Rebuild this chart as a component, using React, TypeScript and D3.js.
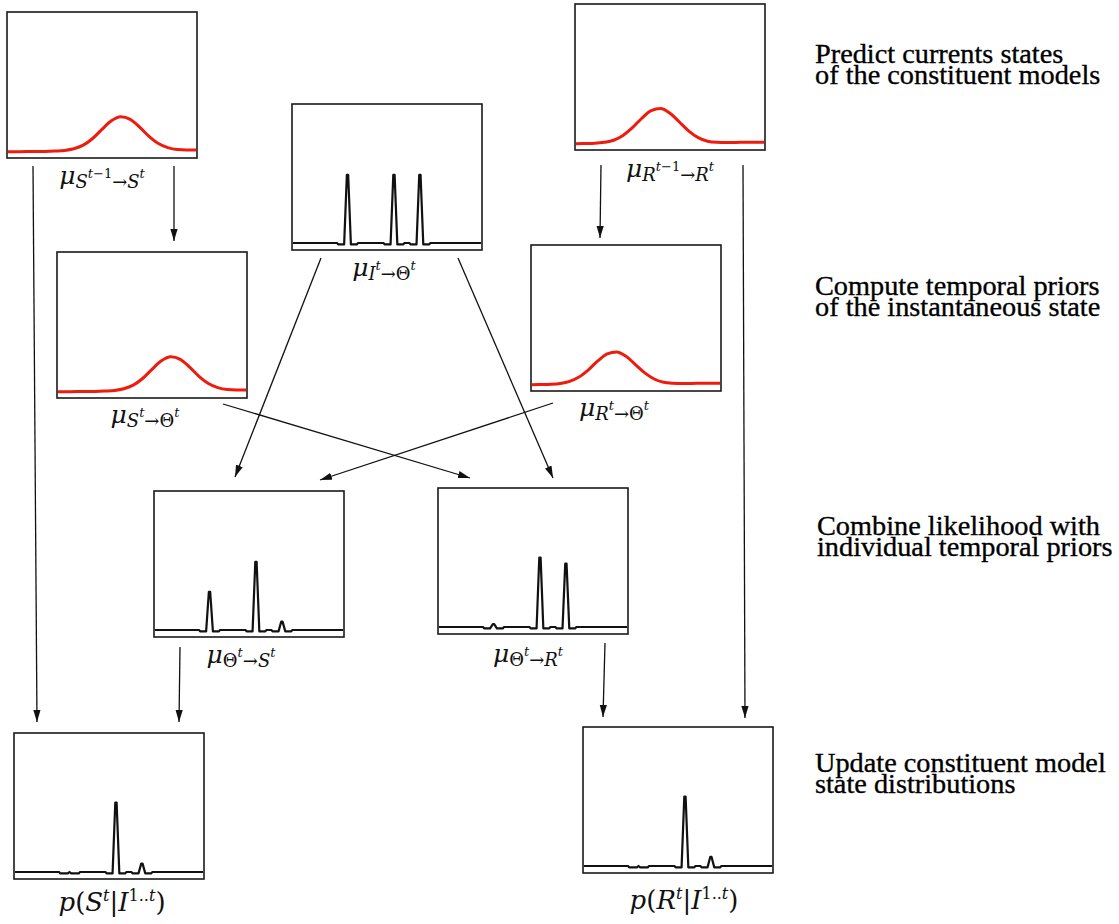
import React from 'react';
import * as d3 from 'd3';

// ---------- data ----------
// sample positions (percent of panel width)
const GX = [0, 5, 10, 15, 20, 25, 30, 35, 40, 45, 50, 55, 60, 65, 70, 75, 80, 85, 90, 95, 100];
// predicted / prior densities (percent of panel height above baseline)
const S_PRED = [-0.6, -0.5, -0.4, -0.4, -0.3, 0, 0.4, 1.6, 4.2, 9, 15.6, 21.7, 24.6, 22.8, 17.2, 10.6, 5.4, 2.4, 1.0, 0.7, 0.7];
const S_TO_THETA = [-0.6, -0.5, -0.4, -0.4, -0.3, 0, 0.4, 1.6, 4.2, 9, 15.6, 21.7, 24.6, 22.8, 17.2, 10.6, 5.4, 2.4, 1.0, 0.7, 0.7];
const R_PRED = [-0.5, -0.4, -0.2, 0.5, 2.0, 5.4, 11, 17.8, 23.3, 24.8, 21.4, 15.1, 8.6, 3.9, 1.3, 0.5, 0.3, 0.4, 0.5, 0.6, 0.6];
const R_TO_THETA = [-0.5, -0.4, -0.2, 0.4, 1.9, 5.0, 10.2, 16.6, 21.7, 23.1, 19.9, 14.0, 8.0, 3.6, 1.2, 0.5, 0.3, 0.4, 0.5, 0.6, 0.6];

// peak locations of the instantaneous state (percent of panel width)
const PEAK_POS = [29, 53.7, 67.5];
// peak heights (percent of panel height)
const I_LIKELIHOOD = [49, 49, 49];
const THETA_TO_S = [27.5, 49, 6];
const THETA_TO_R = [2, 50, 45.6];
const POST_S = [0, 50, 6];
const POST_R = [0, 50, 6.5];

const STEP_TEXT = [
  ['Predict currents states', 'of the constituent models'],
  ['Compute temporal priors', 'of the instantaneous state'],
  ['Combine likelihood with', 'individual temporal priors'],
  ['Update constituent model', 'state distributions'],
];

const LBL_S_PRED = [['μ', 'mu'], ['S', 'sub'], ['t', 'sup'], ['−1', 'supR'], ['→', 'arr'], ['S', 'sub'], ['t', 'sup']];
const LBL_R_PRED = [['μ', 'mu'], ['R', 'sub'], ['t', 'sup'], ['−1', 'supR'], ['→', 'arr'], ['R', 'sub'], ['t', 'sup']];
const LBL_I = [['μ', 'mu'], ['I', 'sub'], ['t', 'sup'], ['→', 'arr'], ['Θ', 'subR'], ['t', 'sup']];
const LBL_S_TH = [['μ', 'mu'], ['S', 'sub'], ['t', 'sup'], ['→', 'arr'], ['Θ', 'subR'], ['t', 'sup']];
const LBL_R_TH = [['μ', 'mu'], ['R', 'sub'], ['t', 'sup'], ['→', 'arr'], ['Θ', 'subR'], ['t', 'sup']];
const LBL_TH_S = [['μ', 'mu'], ['Θ', 'subR'], ['t', 'sup'], ['→', 'arr'], ['S', 'sub'], ['t', 'sup']];
const LBL_TH_R = [['μ', 'mu'], ['Θ', 'subR'], ['t', 'sup'], ['→', 'arr'], ['R', 'sub'], ['t', 'sup']];
const LBL_P_S = [['p', 'it'], ['(', 'rm'], ['S', 'it'], ['t', 'sup2'], ['|', 'rm'], ['I', 'it'], ['1..', 'sup2R'], ['t', 'sup2'], [')', 'rm']];
const LBL_P_R = [['p', 'it'], ['(', 'rm'], ['R', 'it'], ['t', 'sup2'], ['|', 'rm'], ['I', 'it'], ['1..', 'sup2R'], ['t', 'sup2'], [')', 'rm']];

// ---------- layout ----------
const PW = 190;
const PH = 146;
const BASE_OFF = 7;
const MATH_FONT = "'DejaVu Serif', 'Liberation Serif', serif";
const TEXT_FONT = "'Liberation Serif', 'Times New Roman', serif";

const ROLES: Record<string, { size: number; it: boolean; lvl: number }> = {
  mu: { size: 25, it: true, lvl: 0 },
  sub: { size: 18, it: true, lvl: 4 },
  subR: { size: 18, it: false, lvl: 4 },
  arr: { size: 18, it: false, lvl: 4 },
  sup: { size: 13, it: true, lvl: -6 },
  supR: { size: 13, it: false, lvl: -6 },
  it: { size: 26, it: true, lvl: 0 },
  rm: { size: 26, it: false, lvl: 0 },
  sup2: { size: 16, it: true, lvl: -10 },
  sup2R: { size: 16, it: false, lvl: -10 },
};

type Panel = {
  x: number; y: number; kind: 'gauss' | 'spike'; values: number[];
  label: string[][]; lx: number; ly: number;
};

const PANELS: Panel[] = [
  { x: 7, y: 12, kind: 'gauss', values: S_PRED, label: LBL_S_PRED, lx: 102, ly: 184 },
  { x: 575, y: 4, kind: 'gauss', values: R_PRED, label: LBL_R_PRED, lx: 670, ly: 177 },
  { x: 292, y: 104, kind: 'spike', values: I_LIKELIHOOD, label: LBL_I, lx: 384, ly: 276 },
  { x: 57, y: 252, kind: 'gauss', values: S_TO_THETA, label: LBL_S_TH, lx: 145, ly: 423 },
  { x: 531, y: 245, kind: 'gauss', values: R_TO_THETA, label: LBL_R_TH, lx: 614, ly: 416 },
  { x: 154, y: 491, kind: 'spike', values: THETA_TO_S, label: LBL_TH_S, lx: 241, ly: 663 },
  { x: 438, y: 488, kind: 'spike', values: THETA_TO_R, label: LBL_TH_R, lx: 528, ly: 662 },
  { x: 14, y: 733, kind: 'spike', values: POST_S, label: LBL_P_S, lx: 112, ly: 911 },
  { x: 583, y: 727, kind: 'spike', values: POST_R, label: LBL_P_R, lx: 684, ly: 909 },
];

const ARROWS = [
  [33, 166, 37, 722],
  [174, 166, 174, 241],
  [601, 165, 600, 238],
  [743, 165, 745, 718],
  [321, 258, 235, 477],
  [458, 258, 553, 478],
  [223, 404, 470, 478],
  [553, 403, 320, 480],
  [180, 647, 179, 722],
  [605, 643, 603, 717],
];

const TEXT_POS = [
  { x: 815, y: 63 },
  { x: 815, y: 295 },
  { x: 817, y: 535 },
  { x: 815, y: 772 },
];

function spikePoints(heights: number[]): [number, number][] {
  const pts: [number, number][] = [[0, 0]];
  PEAK_POS.forEach((p, i) => {
    const h = heights[i];
    pts.push([p - 5.5, 0], [p - 5, -1.0]);
    if (h > 0) {
      pts.push([p - 1.8, -1.0], [p - 0.35, h], [p + 0.35, h], [p + 1.8, -1.0]);
    } else {
      pts.push([p - 0.9, -1.0], [p, 0], [p + 0.9, -1.0]);
    }
    pts.push([p + 5, -1.0], [p + 5.5, 0]);
  });
  pts.push([100, 0]);
  return pts;
}

function PanelView({ p }: { p: Panel }) {
  const bottom = p.y + PH;
  const base = bottom - BASE_OFF;
  const xs = d3.scaleLinear().domain([0, 100]).range([p.x + 1, p.x + PW - 1]);
  const ys = d3.scaleLinear().domain([0, 100]).range([base, base - 139]);
  let path = '';
  if (p.kind === 'gauss') {
    const line = d3.line<number>().x((_, i) => xs(GX[i])).y((v) => ys(v)).curve(d3.curveMonotoneX);
    path = line(p.values) || '';
  } else {
    const line = d3.line<[number, number]>().x((d) => xs(d[0])).y((d) => ys(d[1]));
    path = line(spikePoints(p.values)) || '';
  }
  let prev = 0;
  return (
    <g>
      <rect x={p.x} y={p.y} width={PW} height={PH} fill="#fff" stroke="#1a1a1a" strokeWidth={1.6} />
      <path d={path} fill="none" stroke={p.kind === 'gauss' ? '#ec1c0e' : '#111'}
        strokeWidth={p.kind === 'gauss' ? 3 : 2.2} strokeLinejoin="round" />
      <text x={p.lx} y={p.ly} textAnchor="middle" fontFamily={MATH_FONT} fill="#111">
        {p.label.map(([t, role], i) => {
          const r = ROLES[role];
          const dy = r.lvl - prev;
          prev = r.lvl;
          return (
            <tspan key={i} dy={dy} fontSize={r.size} fontStyle={r.it ? 'italic' : 'normal'}>{t}</tspan>
          );
        })}
      </text>
    </g>
  );
}

export default function App() {
  return (
    <svg width={1119} height={924} style={{ position: 'absolute', left: 0, top: 0, background: '#fff' }}>
      <defs>
        <marker id="ah" viewBox="0 -4 12 8" refX={12} refY={0} markerWidth={12} markerHeight={8}
          markerUnits="userSpaceOnUse" orient="auto">
          <path d="M0,-3.6L12,0L0,3.6Z" fill="#111" />
        </marker>
      </defs>
      {ARROWS.map((a, i) => (
        <line key={i} x1={a[0]} y1={a[1]} x2={a[2]} y2={a[3]} stroke="#111" strokeWidth={1.3} markerEnd="url(#ah)" />
      ))}
      {PANELS.map((p, i) => <PanelView key={i} p={p} />)}
      {STEP_TEXT.map((lines, i) => (
        <text key={i} fontFamily={TEXT_FONT} fontSize={28.3} fill="#000" stroke="#000" strokeWidth={0.35}>
          {lines.map((l, j) => (
            <tspan key={j} x={TEXT_POS[i].x} y={TEXT_POS[i].y + j * 21}>{l}</tspan>
          ))}
        </text>
      ))}
    </svg>
  );
}
